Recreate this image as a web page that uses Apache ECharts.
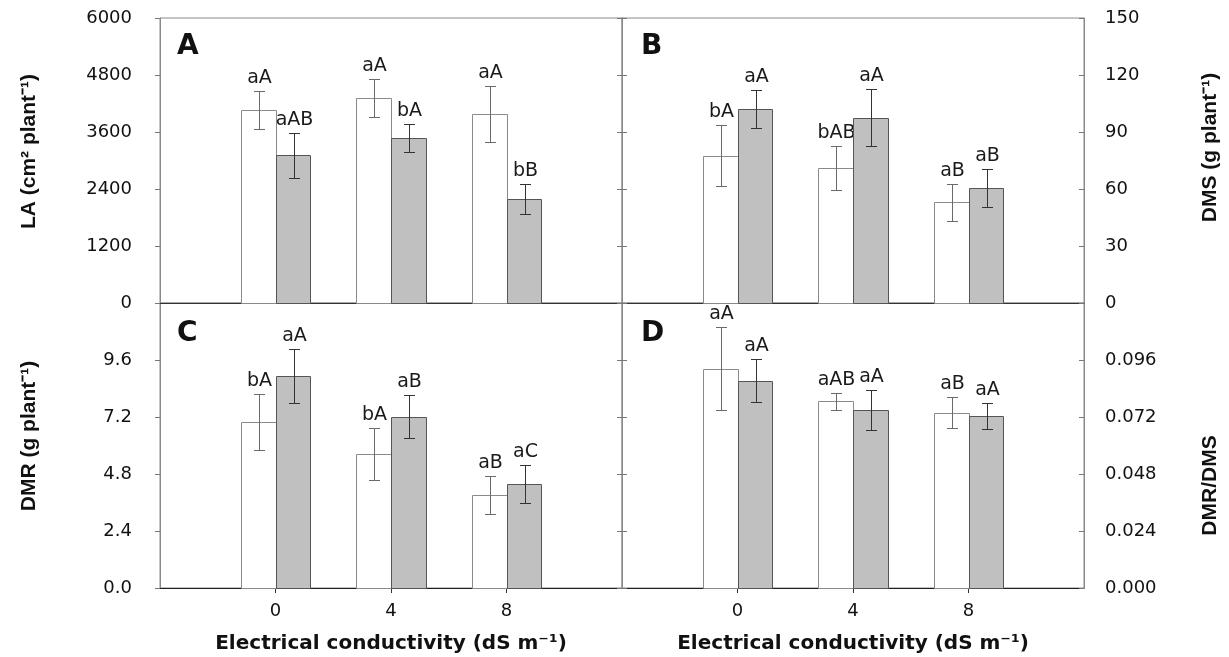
<!DOCTYPE html>
<html>
<head>
<meta charset="utf-8">
<script src="https://cdn.jsdelivr.net/npm/echarts@6/dist/echarts.min.js"></script>
<style>
html,body{margin:0;padding:0;background:#fff;}
#chart{width:1229px;height:657px;}
</style>
</head>
<body>
<div id="chart"></div>
<script>
// ---- data ----
const conductivity = [0, 4, 8];

const laWhite = [4060, 4320, 3980];
const laWhiteErr = [400, 400, 590];
const laGray = [3110, 3470, 2190];
const laGrayErr = [475, 300, 320];
const laWhiteLabels = ['aA', 'aA', 'aA'];
const laGrayLabels = ['aAB', 'bA', 'bB'];

const dmsWhite = [77.5, 71, 53];
const dmsWhiteErr = [16, 11.5, 9.7];
const dmsGray = [102, 97.5, 60.4];
const dmsGrayErr = [10, 15, 10];
const dmsWhiteLabels = ['bA', 'bAB', 'aB'];
const dmsGrayLabels = ['aA', 'aA', 'aB'];

const dmrWhite = [7.0, 5.64, 3.91];
const dmrWhiteErr = [1.17, 1.08, 0.80];
const dmrGray = [8.92, 7.21, 4.38];
const dmrGrayErr = [1.13, 0.91, 0.78];
const dmrWhiteLabels = ['bA', 'bA', 'aB'];
const dmrGrayLabels = ['aA', 'aB', 'aC'];

const ratioWhite = [0.0924, 0.0786, 0.0738];
const ratioWhiteErr = [0.0176, 0.0036, 0.0065];
const ratioGray = [0.0873, 0.0748, 0.0725];
const ratioGrayErr = [0.009, 0.0084, 0.0055];
const ratioWhiteLabels = ['aA', 'aAB', 'aB'];
const ratioGrayLabels = ['aA', 'aA', 'aA'];

const panelLetters = ['A', 'B', 'C', 'D'];
const xTicks = [0, 4, 8];

// ---- rendering ----
const BW = 1.2;
const FONT = '"DejaVu Sans", sans-serif';

function rows(x, m, e) { return x.map((v, i) => [v, m[i], e[i]]); }

function makeRender(side, labels) {
  const isWhite = side === 'left';
  return function (params, api) {
    const x = api.value(0), v = api.value(1), e = api.value(2);
    const x0 = isWhite ? x - BW : x, x1 = isWhite ? x : x + BW;
    const pb = api.coord([x0, 0]);
    const pt = api.coord([x1, v]);
    const L = Math.round(pb[0]) + 0.5, R = Math.round(pt[0]) + 0.5;
    const T = Math.round(pt[1]) + 0.5, B = Math.round(pb[1]) + 0.5;
    const cx = Math.round((L + R) / 2) + 0.5;
    const yHi = Math.round(api.coord([x, v + e])[1]) + 0.5;
    const yLo = Math.round(api.coord([x, v - e])[1]) + 0.5;
    const ec = isWhite ? '#6a6a6a' : '#333';
    return {
      type: 'group',
      children: [
        { type: 'rect', shape: { x: L, y: T, width: R - L, height: B - T },
          style: { fill: isWhite ? '#ffffff' : '#c0c0c0', stroke: isWhite ? '#8a8a8a' : '#555', lineWidth: 1 } },
        { type: 'line', shape: { x1: cx, y1: yHi, x2: cx, y2: yLo }, style: { stroke: ec, lineWidth: 1 } },
        { type: 'line', shape: { x1: cx - 5.5, y1: yHi, x2: cx + 5.5, y2: yHi }, style: { stroke: ec, lineWidth: 1 } },
        { type: 'line', shape: { x1: cx - 5.5, y1: yLo, x2: cx + 5.5, y2: yLo }, style: { stroke: ec, lineWidth: 1 } },
        { type: 'text', x: cx, y: yHi - 4,
          style: { text: labels[params.dataIndex], fill: '#1a1a1a', font: '19px ' + FONT, align: 'center', verticalAlign: 'bottom' } }
      ]
    };
  };
}

const grids = [
  { left: 160, top: 18, width: 462, height: 285 },
  { left: 622, top: 18, width: 462, height: 285 },
  { left: 160, top: 303, width: 462, height: 285 },
  { left: 622, top: 303, width: 462, height: 285 }
].map(g => Object.assign(g, { show: true, borderColor: '#8a8a8a', borderWidth: 1, containLabel: false }));

function xAxis(gi, bottom) {
  const ax = {
    type: 'value', gridIndex: gi, min: -4, max: 12, interval: 4,
    splitLine: { show: false },
    axisLine: { show: true, onZero: false, lineStyle: { color: bottom ? '#1e1e1e' : '#333', width: 1 } },
    axisTick: { show: bottom, inside: false, length: 5, customValues: xTicks, lineStyle: { color: '#333' } },
    axisLabel: { show: bottom, customValues: xTicks, margin: 14, fontSize: 18, fontFamily: FONT, color: '#111' }
  };
  if (bottom) {
    ax.name = 'Electrical conductivity (dS m\u207B\u00B9)';
    ax.nameLocation = 'middle';
    ax.nameGap = 46;
    ax.nameTextStyle = { fontSize: 20, fontWeight: 'bold', fontFamily: FONT, color: '#111' };
  }
  return ax;
}

function yAxis(gi, pos, min, max, interval, opts) {
  const lab = opts.labels;
  const ax = {
    type: 'value', gridIndex: gi, position: pos, min: min, max: max, interval: interval,
    splitLine: { show: false },
    axisLine: { show: true, onZero: false, lineStyle: { color: '#8a8a8a', width: 1 } },
    axisTick: { show: true, inside: !opts.outTicks, length: 5, lineStyle: { color: '#777' } },
    axisLabel: { show: !!lab, margin: pos === 'left' ? 28 : 21, fontSize: 18, fontFamily: FONT, color: '#111',
      showMaxLabel: opts.showMax !== false, formatter: opts.fmt }
  };
  if (opts.name) {
    ax.name = opts.name;
    ax.nameLocation = 'middle';
    ax.nameRotate = 90;
    ax.nameGap = opts.gap;
    ax.nameTextStyle = { fontSize: 21, fontWeight: 'bold', fontFamily: '"Liberation Sans", Arial, sans-serif', color: '#111', padding: opts.pad };
  }
  return ax;
}

const yAxes = [
  yAxis(0, 'left', 0, 6000, 1200, { labels: true, outTicks: true, fmt: v => String(v), name: 'LA (cm\u00B2 plant\u207B\u00B9)', gap: 120, pad: [0, 0, 0, 18] }),
  yAxis(0, 'right', 0, 6000, 1200, { labels: false }),
  yAxis(1, 'right', 0, 150, 30, { labels: true, fmt: v => String(v), name: 'DMS (g plant\u207B\u00B9)', gap: 116, pad: [0, 0, 0, 26] }),
  yAxis(1, 'left', 0, 150, 30, { labels: false }),
  yAxis(2, 'left', 0, 12, 2.4, { labels: true, outTicks: true, showMax: false, fmt: v => v.toFixed(1), name: 'DMR (g plant\u207B\u00B9)', gap: 120, pad: [0, 0, 0, 19] }),
  yAxis(2, 'right', 0, 12, 2.4, { labels: false }),
  yAxis(3, 'right', 0, 0.12, 0.024, { labels: true, showMax: false, fmt: v => v.toFixed(3), name: 'DMR/DMS', gap: 116, pad: [0, 80, 0, 0] }),
  yAxis(3, 'left', 0, 0.12, 0.024, { labels: false })
];

function series(name, xi, yi, data, side, labels) {
  return { type: 'custom', name: name, xAxisIndex: xi, yAxisIndex: yi, data: data,
    encode: { x: 0, y: 1 }, renderItem: makeRender(side, labels), clip: false, silent: true };
}

const option = {
  animation: false,
  backgroundColor: '#fff',
  textStyle: { fontFamily: FONT },
  title: [
    { text: panelLetters[0], left: 172, top: 28 },
    { text: panelLetters[1], left: 636, top: 28 },
    { text: panelLetters[2], left: 172, top: 315 },
    { text: panelLetters[3], left: 636, top: 315 }
  ].map(t => Object.assign(t, { textStyle: { fontSize: 28, fontWeight: 'bold', fontFamily: FONT, color: '#111' } })),
  grid: grids,
  xAxis: [xAxis(0, false), xAxis(1, false), xAxis(2, true), xAxis(3, true)],
  yAxis: yAxes,
  series: [
    series('LA control', 0, 0, rows(conductivity, laWhite, laWhiteErr), 'left', laWhiteLabels),
    series('LA treated', 0, 0, rows(conductivity, laGray, laGrayErr), 'right', laGrayLabels),
    series('DMS control', 1, 2, rows(conductivity, dmsWhite, dmsWhiteErr), 'left', dmsWhiteLabels),
    series('DMS treated', 1, 2, rows(conductivity, dmsGray, dmsGrayErr), 'right', dmsGrayLabels),
    series('DMR control', 2, 4, rows(conductivity, dmrWhite, dmrWhiteErr), 'left', dmrWhiteLabels),
    series('DMR treated', 2, 4, rows(conductivity, dmrGray, dmrGrayErr), 'right', dmrGrayLabels),
    series('DMR/DMS control', 3, 6, rows(conductivity, ratioWhite, ratioWhiteErr), 'left', ratioWhiteLabels),
    series('DMR/DMS treated', 3, 6, rows(conductivity, ratioGray, ratioGrayErr), 'right', ratioGrayLabels)
  ]
};

const chart = echarts.init(document.getElementById('chart'), null, { renderer: 'canvas' });
chart.setOption(option);
</script>
</body>
</html>
